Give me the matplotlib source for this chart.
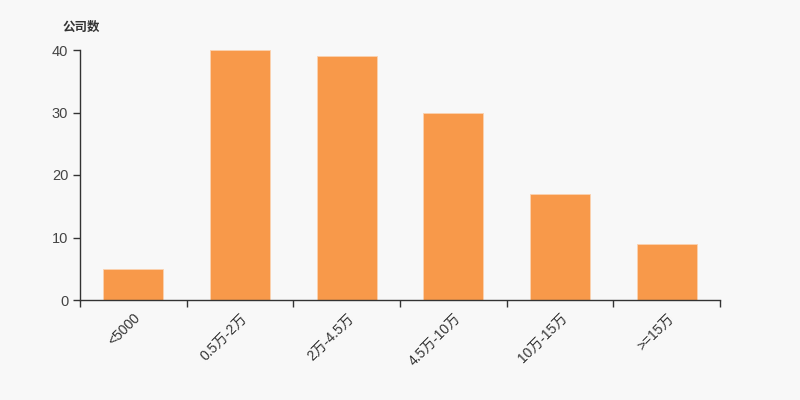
import matplotlib
matplotlib.use('Agg')
import matplotlib.pyplot as plt

plt.rcParams['font.family'] = ['Liberation Sans', 'Noto Sans CJK SC', 'DejaVu Sans']

categories = ['<5000', '0.5万-2万', '2万-4.5万', '4.5万-10万', '10万-15万', '>=15万']
counts = [5, 40, 39, 30, 17, 9]

bg = '#f8f8f8'
fig = plt.figure(figsize=(8, 4), dpi=100, facecolor=bg)
ax = fig.add_axes([0.1, 0.25, 0.8, 0.625], facecolor=bg)

x = range(len(categories))
ax.bar(x, counts, width=0.56, color='#f8994a', edgecolor='#fbd2b0', linewidth=0.6)

ax.set_xlim(-0.5, len(categories) - 0.5)
ax.set_ylim(0, 40)
ax.set_yticks([0, 10, 20, 30, 40])
ax.set_xticks([i - 0.5 for i in range(len(categories) + 1)])
ax.set_xticklabels([])
ax.set_xticks(list(x), minor=True)
ax.set_xticklabels(categories, minor=True, rotation=45, ha='right', va='top',
                   rotation_mode='anchor', fontsize=10, color='#333333')
ax.tick_params(axis='x', which='minor', length=0, pad=8)
ax.tick_params(axis='x', which='major', length=5, color='#333333', width=1)
ax.tick_params(axis='y', length=5, color='#333333', labelsize=10.5, labelcolor='#444444', width=1)

for s in ['top', 'right']:
    ax.spines[s].set_visible(False)
for s in ['left', 'bottom']:
    ax.spines[s].set_color('#333333')
    ax.spines[s].set_linewidth(1)

fig.text(0.078, 0.93, '公司数', fontsize=9, fontweight='bold', color='#333333', va='center')

plt.savefig('out.png', dpi=100, facecolor=bg)
